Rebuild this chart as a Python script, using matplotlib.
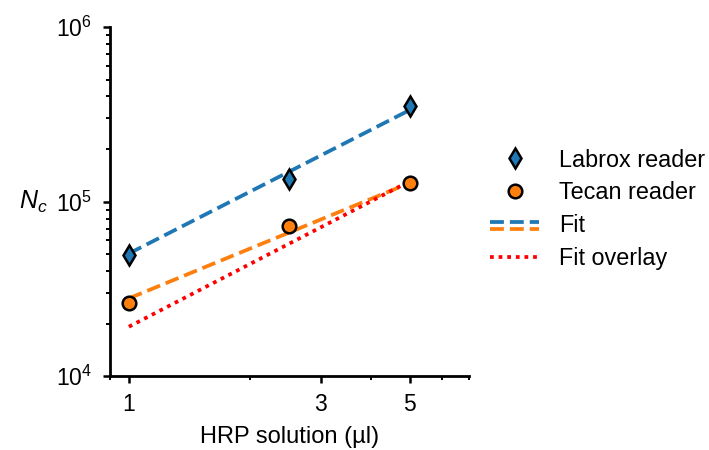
import matplotlib
matplotlib.use('Agg')
import matplotlib.pyplot as plt
from matplotlib.lines import Line2D
from matplotlib.ticker import FixedLocator, FixedFormatter, NullFormatter, LogLocator
import numpy as np

plt.rcParams.update({'font.family': ['Liberation Sans', 'DejaVu Sans'],
                     'mathtext.fontset': 'custom',
                     'mathtext.it': 'Liberation Sans:italic',
                     'mathtext.rm': 'Liberation Sans',
                     'font.size': 16})

# measured points
hrp_ul = [1.0, 2.5, 5.0]
labrox_nc = [49300, 134000, 352000]
tecan_nc = [26300, 72400, 127000]

# fitted lines (end points)
fit_x = [1.0, 5.0]
labrox_fit = [50400, 335000]
tecan_fit = [27900, 128000]
overlay_fit = [19200, 131000]

x_ticks = [1, 3, 5]

blue = '#1f77b4'
orange = '#ff7f0e'
LW = 2.7
MEW = 1.8


class StackedLines:
    """Legend handler drawing two dashed lines one above the other."""
    def __init__(self, colors):
        self.colors = colors

    def legend_artist(self, legend, orig_handle, fontsize, handlebox):
        x0, y0 = handlebox.xdescent, handlebox.ydescent
        w, h = handlebox.width, handlebox.height
        for c, dy in zip(self.colors, [0.62 * h, 0.2 * h]):
            ln = Line2D([x0, x0 + w], [y0 + dy] * 2, color=c, lw=LW,
                        ls='--', transform=handlebox.get_transform())
            handlebox.add_artist(ln)
        return ln


fig = plt.figure(figsize=(7.09, 4.5), dpi=100)
ax = fig.add_axes([0.155, 0.164, 0.506, 0.776])

ax.plot(fit_x, labrox_fit, ls='--', lw=LW, color=blue, zorder=2)
ax.plot(fit_x, tecan_fit, ls='--', lw=LW, color=orange, zorder=2)
ax.plot(fit_x, overlay_fit, ls=(0, (1, 1.3)), lw=LW, color='red', zorder=2)
ax.plot(hrp_ul, labrox_nc, ls='none', marker='d', ms=10, mfc=blue, mec='k', mew=MEW, zorder=3)
ax.plot(hrp_ul, tecan_nc, ls='none', marker='o', ms=9.8, mfc=orange, mec='k', mew=MEW, zorder=3)

ax.set_xscale('log')
ax.set_yscale('log')
ax.set_xlim(0.897, 7.0)
ax.set_ylim(1e4, 1e6)

ax.xaxis.set_major_locator(FixedLocator(x_ticks))
ax.xaxis.set_major_formatter(FixedFormatter([str(t) for t in x_ticks]))
ax.xaxis.set_minor_locator(FixedLocator([0.9, 2, 4, 6, 7]))
ax.xaxis.set_minor_formatter(NullFormatter())
ax.yaxis.set_major_locator(LogLocator(base=10, numticks=5))
ax.yaxis.set_minor_locator(LogLocator(base=10, subs=np.arange(2, 10), numticks=20))
ax.yaxis.set_minor_formatter(NullFormatter())

for s in ['top', 'right']:
    ax.spines[s].set_visible(False)
for s in ['left', 'bottom']:
    ax.spines[s].set_linewidth(2.0)
ax.tick_params(which='major', length=5, width=1.8, labelsize=16.5, pad=7)
ax.tick_params(which='minor', length=3, width=1.4)
ax.tick_params(axis='y', which='major', labelsize=16.5, pad=8)

ax.set_xlabel('HRP solution (µl)', fontsize=17, labelpad=7)
ax.set_ylabel('$N_c$', fontsize=18, rotation=0, labelpad=16, va='center')

h_lab = Line2D([], [], ls='none', marker='d', ms=10, mfc=blue, mec='k', mew=MEW)
h_tec = Line2D([], [], ls='none', marker='o', ms=9.8, mfc=orange, mec='k', mew=MEW)
h_fit = object()
h_ovl = Line2D([], [], ls=(0, (1, 1.3)), lw=LW, color='red')
fig.legend([h_lab, h_tec, h_fit, h_ovl],
           ['Labrox reader', 'Tecan reader', 'Fit', 'Fit overlay'],
           handler_map={h_fit: StackedLines([blue, orange])},
           loc='center left', bbox_to_anchor=(0.662, 0.535), frameon=False,
           fontsize=16.8, handlelength=2.1, labelspacing=0.42, handletextpad=0.85)

fig.savefig('out.png', dpi=100)
